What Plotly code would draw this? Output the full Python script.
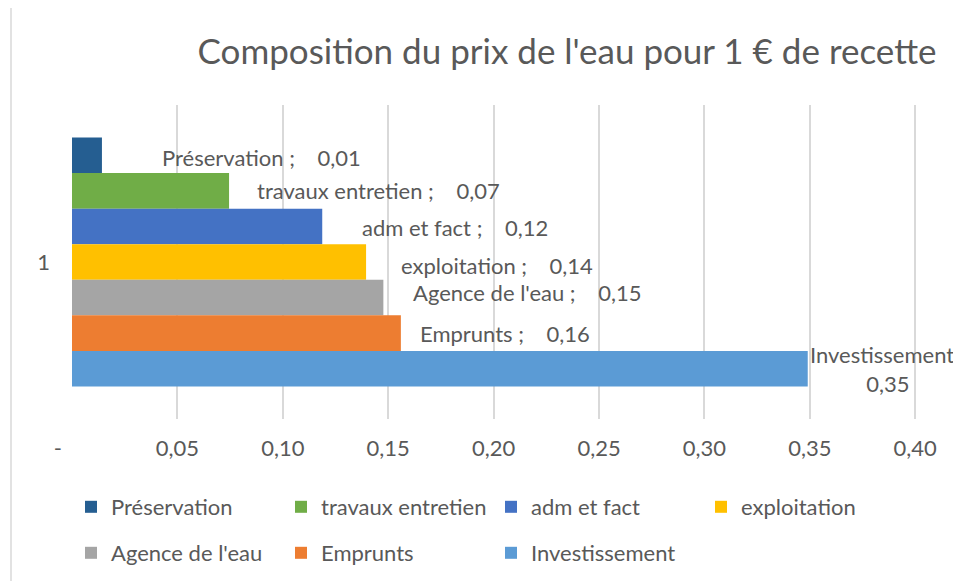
import plotly.graph_objects as go

# ---- data ----
category = ["1"]
series_names = ["Préservation", "travaux entretien", "adm et fact", "exploitation",
                "Agence de l'eau", "Emprunts", "Investissement"]
series_values = [0.0142, 0.0745, 0.1187, 0.1395, 0.1477, 0.156, 0.349]
series_colors = ["#255E91", "#70AD47", "#4472C4", "#FFC000", "#A5A5A5", "#ED7D31", "#5B9BD5"]
tick_values = [0, 0.05, 0.10, 0.15, 0.20, 0.25, 0.30, 0.35, 0.40]
tick_labels = ["-\u00a0\u00a0\u00a0\u00a0\u00a0", "0,05", "0,10", "0,15", "0,20", "0,25", "0,30", "0,35", "0,40"]
title_text = "Composition du prix de l'eau pour 1 € de recette"

# ---- style / layout constants ----
FONT = "Lato, 'Open Sans', sans-serif"
TXT = "#595959"
GRID = "#d9d9d9"
FS = 22
BARGAP = 0.207
# label nudges (px) relative to bar end / bar centre
LABEL_DX = [58, 26, 38, 33, 28, 17, 0]
LABEL_DY = [-2, 0, -1.5, -3, 5, 0, 0]
ROW1 = 4  # legend entries on first row

fig = go.Figure()
n = len(series_names)
for i, (name, val, col) in enumerate(zip(series_names, series_values, series_colors)):
    fig.add_trace(go.Bar(
        y=category, x=[val], name=name, orientation="h",
        marker=dict(color=col, line=dict(width=0)),
        legend="legend" if i < ROW1 else "legend2",
        hoverinfo="skip",
    ))

# data labels as annotations anchored at bar ends
bw = (1 - BARGAP) / n
annotations = []
for i, (name, val) in enumerate(zip(series_names, series_values)):
    vtxt = f"{val:.2f}".replace(".", ",")
    yc = -(1 - BARGAP) / 2 + bw * (i + 0.5)
    if i == n - 1:
        text = f"{name} ;<br>{vtxt}"
    else:
        text = f"{name} ;\u00a0\u00a0\u00a0 {vtxt}"
    annotations.append(dict(
        x=val, y=yc, xref="x", yref="y", text=text, showarrow=False,
        xanchor="left", yanchor="middle", align="center",
        xshift=LABEL_DX[i], yshift=LABEL_DY[i],
        font=dict(family=FONT, size=FS, color=TXT),
    ))

# page body has an 8px margin, so the figure is 8px smaller than the window
W, H = 953, 573
ML, MR, MT, MB = 64, 0, 97, 162
pw = W - ML - MR
ph = H - MT - MB

legend_common = dict(orientation="h", xref="container", x=63 / W, xanchor="left",
                     yref="container", yanchor="middle",
                     entrywidth=165, entrywidthmode="pixels",
                     bgcolor="rgba(0,0,0,0)", font=dict(family=FONT, size=FS, color=TXT),
                     traceorder="normal")

fig.update_layout(
    width=W, height=H,
    margin=dict(l=ML, r=MR, t=MT, b=MB, pad=0, autoexpand=False),
    paper_bgcolor="white", plot_bgcolor="white",
    barmode="group", bargap=BARGAP, bargroupgap=0,
    title=dict(text=title_text, x=(559 - ML) / pw, xref="paper", xanchor="center",
               y=1 - 44 / H, yref="container", yanchor="middle",
               font=dict(family=FONT, size=35, color=TXT)),
    xaxis=dict(range=[0, 0.4217], tickvals=tick_values, ticktext=tick_labels,
               showgrid=True, gridcolor=GRID, gridwidth=1.5, zeroline=False,
               showline=False, ticks="", ticklabelstandoff=14, automargin=False,
               tickfont=dict(family=FONT, size=FS, color=TXT), fixedrange=True),
    yaxis=dict(autorange="reversed", showgrid=False, zeroline=False, showline=False,
               ticks="", ticklabelstandoff=21, type="category", automargin=False,
               tickfont=dict(family=FONT, size=FS, color=TXT)),
    legend=dict(y=1 - 499 / H, **legend_common),
    legend2=dict(y=1 - 545 / H, **legend_common),
    annotations=annotations,
    shapes=[dict(type="line", xref="paper", yref="paper",
                 x0=(3 - ML) / pw, x1=(3 - ML) / pw, y0=-MB / ph - 0.1, y1=1 + MT / ph + 0.1,
                 line=dict(color=GRID, width=1.5))],
    showlegend=True,
)

fig.write_html("out.html")
